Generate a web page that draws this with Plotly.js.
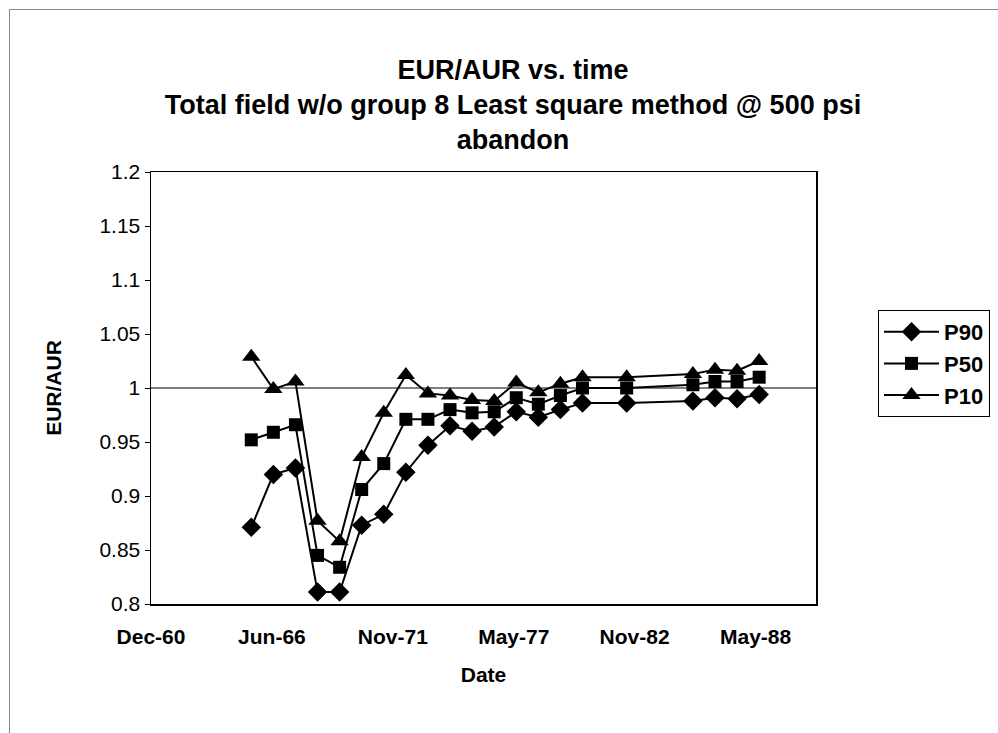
<!DOCTYPE html>
<html>
<head>
<meta charset="utf-8">
<script src="https://cdn.plot.ly/plotly-3.0.1.min.js"></script>
<style>
  html, body { margin: 0; padding: 0; background: #fff; }
  #frame { position: absolute; left: 9px; top: 9px; width: 989px; height: 724px;
           border-top: 1px solid #888; border-left: 1px solid #888; }
  #chart { position: absolute; left: 0; top: 0; width: 998px; height: 733px; }
</style>
</head>
<body>
<div id="frame"></div>
<div id="chart"></div>
<script>
// ---- data ----
const dates = [
  '1965-07-01','1966-07-01','1967-07-01','1968-07-01','1969-07-01','1970-07-01',
  '1971-07-01','1972-07-01','1973-07-01','1974-07-01','1975-07-01','1976-07-01',
  '1977-07-01','1978-07-01','1979-07-01','1980-07-01','1982-07-01',
  '1985-07-01','1986-07-01','1987-07-01','1988-07-01'
];
const p90 = [0.871, 0.920, 0.926, 0.811, 0.811, 0.873, 0.883, 0.922, 0.947, 0.965, 0.960, 0.964,
             0.978, 0.973, 0.980, 0.986, 0.986, 0.988, 0.991, 0.990, 0.994];
const p50 = [0.952, 0.959, 0.966, 0.845, 0.834, 0.906, 0.930, 0.971, 0.971, 0.980, 0.977, 0.978,
             0.991, 0.985, 0.993, 1.000, 1.000, 1.003, 1.006, 1.006, 1.010];
const p10 = [1.029, 0.999, 1.006, 0.877, 0.858, 0.936, 0.977, 1.012, 0.995, 0.993, 0.989, 0.988,
             1.005, 0.996, 1.004, 1.010, 1.010, 1.013, 1.017, 1.016, 1.025];
const seriesNames = ['P90', 'P50', 'P10'];
const xTickVals = ['1960-12-15','1966-06-07','1971-11-28','1977-05-20','1982-11-10','1988-05-02'];
const xTickText = ['Dec-60','Jun-66','Nov-71','May-77','Nov-82','May-88'];
const xRange = ['1960-12-15','1991-01-27'];
const yTickVals = [0.8, 0.85, 0.9, 0.95, 1, 1.05, 1.1, 1.15, 1.2];
const yTickText = ['0.8','0.85','0.9','0.95','1','1.05','1.1','1.15','1.2'];
const refLine = 1;

const FONT = 'Arial, "Liberation Sans", Helvetica, sans-serif';

function series(name, y, symbol, size, grp) {
  return {
    type: 'scatter', mode: 'lines+markers', name: name, x: dates, y: y,
    legendgroup: grp,
    line: { color: '#000', width: 2 },
    marker: { color: '#000', symbol: symbol, size: size }
  };
}

const traces = [
  series(seriesNames[0], p90, 'diamond', 15, 'a'),
  series(seriesNames[1], p50, 'square', 13, 'b'),
  series(seriesNames[2], p10, 'triangle-up', 16, 'c')
];

const layout = {
  width: 998, height: 733,
  paper_bgcolor: 'rgba(0,0,0,0)', plot_bgcolor: '#fff',
  margin: { l: 151, r: 182, t: 172, b: 129, autoexpand: false },
  font: { family: FONT, color: '#000', size: 21 },
  title: {
    text: '<b>EUR/AUR vs. time<br>Total field w/o group 8 Least square method @ 500 psi<br>abandon</b>',
    font: { family: FONT, size: 27, color: '#000' },
    x: 0.514, xref: 'container', xanchor: 'center',
    y: 1 - 79/733, yref: 'container', yanchor: 'top'
  },
  showlegend: true,
  legend: {
    xref: 'container', yref: 'container',
    x: 878/998, y: 1 - 310/733, xanchor: 'left', yanchor: 'top',
    bordercolor: '#000', borderwidth: 1, bgcolor: '#fff',
    font: { family: FONT, size: 22, color: '#000', weight: 'bold' },
    tracegroupgap: 7, itemwidth: 55, traceorder: 'normal'
  },
  xaxis: {
    type: 'date', range: xRange, tickmode: 'array', tickvals: xTickVals, ticktext: xTickText,
    showgrid: false, zeroline: false, ticks: '',
    showline: true, linecolor: '#000', linewidth: 1.5, mirror: true,
    tickfont: { family: FONT, size: 21, weight: 'bold' },
    ticklabelstandoff: 13,
    title: { text: '<b>Date</b>', font: { family: FONT, size: 21 }, standoff: 20 }
  },
  yaxis: {
    range: [0.8, 1.2], tickmode: 'array', tickvals: yTickVals, ticktext: yTickText,
    showgrid: false, zeroline: false, ticks: 'outside', ticklen: 5, tickcolor: '#000',
    showline: true, linecolor: '#000', linewidth: 1.5, mirror: true,
    tickfont: { family: FONT, size: 21 },
    title: { text: '<b>EUR/AUR</b>', font: { family: FONT, size: 21 }, standoff: 32 }
  },
  shapes: [{
    type: 'line', xref: 'paper', x0: 0, x1: 1, yref: 'y', y0: refLine, y1: refLine,
    line: { color: '#000', width: 1.2 }, layer: 'below'
  }]
};

Plotly.newPlot('chart', traces, layout, { displayModeBar: false, staticPlot: true });
</script>
</body>
</html>
